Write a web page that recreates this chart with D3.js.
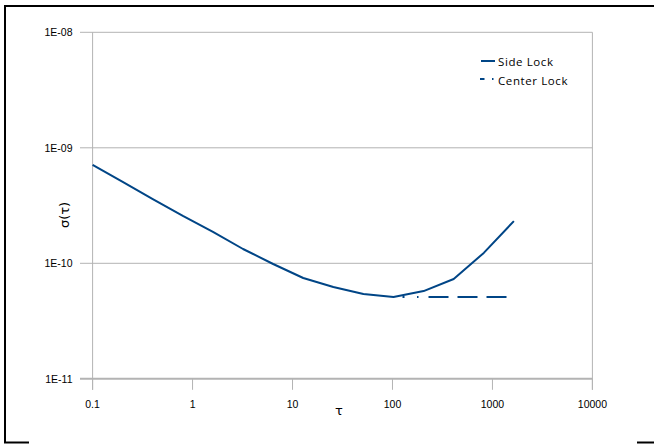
<!DOCTYPE html>
<html><head><meta charset="utf-8">
<script src="https://cdn.jsdelivr.net/npm/d3@7"></script>
<style>
html,body{margin:0;padding:0;background:#fff;}
svg{display:block;}
</style></head>
<body>
<svg id="c" width="654" height="445"></svg>
<script>
const taus = [0.1, 0.2, 0.4, 0.8, 1.6, 3.2, 6.4, 12.8, 25.6, 51.2, 102.4, 204.8, 409.6, 819.2, 1638.4];
const sideLock = [7.1e-10, 5.06e-10, 3.6e-10, 2.57e-10, 1.87e-10, 1.33e-10, 9.86e-11, 7.46e-11, 6.24e-11, 5.42e-11, 5.11e-11, 5.75e-11, 7.31e-11, 1.23e-10, 2.32e-10];
const centerTaus = [102.4, 1638.4];
const centerLock = [5.11e-11, 5.11e-11];
const xTicks = [0.1, 1, 10, 100, 1000, 10000];
const xTickLabels = ["0.1", "1", "10", "100", "1000", "10000"];
const yTicks = [1e-8, 1e-9, 1e-10, 1e-11];
const yTickLabels = ["1E-08", "1E-09", "1E-10", "1E-11"];
const seriesNames = ["Side Lock", "Center Lock"];

const svg = d3.select("#c");
const blue = "#004586", grid = "#b3b3b3";
const x = d3.scaleLog().domain([0.1, 10000]).range([92.6, 592.4]);
const y = d3.scaleLog().domain([1e-11, 1e-8]).range([378.8, 32.3]);

// outer frame (partial, black)
svg.append("line").attr("x1",4).attr("x2",654).attr("y1",6).attr("y2",6).attr("stroke","#000").attr("stroke-width",2);
svg.append("line").attr("x1",5).attr("x2",5).attr("y1",5).attr("y2",443).attr("stroke","#000").attr("stroke-width",2);
svg.append("line").attr("x1",4).attr("x2",29).attr("y1",442.5).attr("y2",442.5).attr("stroke","#000").attr("stroke-width",2);
svg.append("line").attr("x1",637).attr("x2",654).attr("y1",442.5).attr("y2",442.5).attr("stroke","#000").attr("stroke-width",2);

// gridlines
svg.append("g").selectAll("line").data(yTicks).join("line")
  .attr("x1",80).attr("x2",x(10000)).attr("y1",d=>y(d)).attr("y2",d=>y(d))
  .attr("stroke",grid).attr("stroke-width",d=>d===1e-11?2:1);
// plot verticals
svg.append("line").attr("x1",x(0.1)).attr("x2",x(0.1)).attr("y1",y(1e-8)).attr("y2",y(1e-11)+11).attr("stroke",grid);
svg.append("line").attr("x1",x(10000)).attr("x2",x(10000)).attr("y1",y(1e-8)).attr("y2",y(1e-11)+11).attr("stroke",grid);
// x ticks
svg.append("g").selectAll("line").data(xTicks).join("line")
  .attr("x1",d=>x(d)).attr("x2",d=>x(d)).attr("y1",y(1e-11)).attr("y2",y(1e-11)+11)
  .attr("stroke",grid);

const tickFont = "'Liberation Sans', Arial, sans-serif";
svg.append("g").selectAll("text").data(xTicks).join("text")
  .attr("x",d=>x(d)).attr("y",407.5).attr("text-anchor","middle")
  .attr("font-family",tickFont).attr("font-size",10.5).attr("fill","#000")
  .text((d,i)=>xTickLabels[i]);
svg.append("g").selectAll("text").data(yTicks).join("text")
  .attr("x",72.5).attr("y",d=>y(d)+3.8).attr("text-anchor","end")
  .attr("font-family",tickFont).attr("font-size",10.5).attr("fill","#000")
  .text((d,i)=>yTickLabels[i]);

// axis titles
svg.append("text").attr("x",339).attr("y",415).attr("text-anchor","middle")
  .attr("font-family","'DejaVu Sans', sans-serif").attr("font-size",13).text("τ");
svg.append("text").attr("transform","translate(69,215) rotate(-90)").attr("text-anchor","middle")
  .attr("font-family","'DejaVu Sans', sans-serif").attr("font-size",13).text("σ(τ)");

// series
const line = d3.line().x(d=>x(d[0])).y(d=>y(d[1]));
svg.append("path").datum(centerTaus.map((t,i)=>[t,centerLock[i]]))
  .attr("d",line).attr("fill","none").attr("stroke",blue).attr("stroke-width",2)
  .attr("stroke-dasharray","0,9,2,12.5,1.5,10,20,9,20,9,20,9");
svg.append("path").datum(taus.map((t,i)=>[t,sideLock[i]]))
  .attr("d",line).attr("fill","none").attr("stroke",blue).attr("stroke-width",2)
  .attr("stroke-linejoin","round");

// legend
const legFont = "'Open Sans', 'DejaVu Sans', sans-serif";
svg.append("line").attr("x1",481).attr("x2",495).attr("y1",61).attr("y2",61).attr("stroke",blue).attr("stroke-width",2);
svg.append("line").attr("x1",480).attr("x2",495).attr("y1",79).attr("y2",79).attr("stroke",blue).attr("stroke-width",2)
  .attr("stroke-dasharray","4.5,7.5,1.5,10");
svg.append("g").selectAll("text").data(seriesNames).join("text")
  .attr("x",498).attr("y",(d,i)=>65.5+i*19).attr("font-family",legFont).attr("font-size",11.5)
  .attr("letter-spacing",0.6).attr("fill","#000").text(d=>d);
</script>
</body></html>
